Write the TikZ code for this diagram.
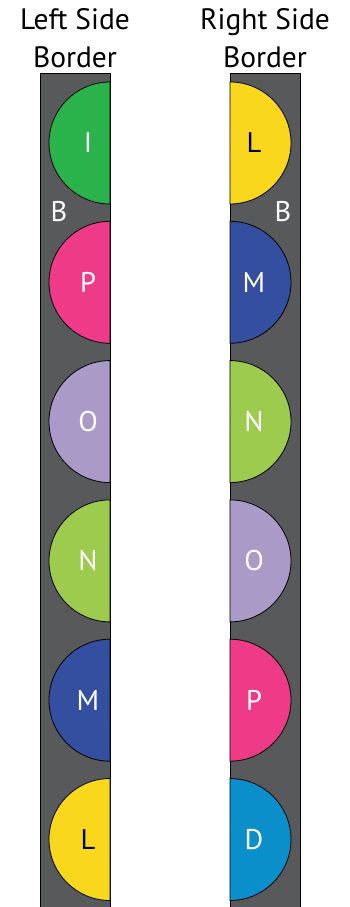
\documentclass[tikz,border=0pt]{standalone}
\usepackage{fontspec}
\setmainfont{PT Sans}
\definecolor{stripgray}{HTML}{58595B}
\definecolor{cgreen}{HTML}{2AB34B}
\definecolor{cyellow}{HTML}{F9D71C}
\definecolor{cpink}{HTML}{EE3A87}
\definecolor{cblue}{HTML}{344EA0}
\definecolor{clav}{HTML}{A99AC8}
\definecolor{clime}{HTML}{9DCB4E}
\definecolor{ccyan}{HTML}{0A8FCB}
\begin{document}
\begin{tikzpicture}[x=1pt,y=1pt,
  strip/.style={draw=black,line width=0.8pt,fill=stripgray},
  half/.style={draw=black,line width=0.8pt,fill=#1},
  title/.style={font=\fontsize{29.5}{32}\selectfont,anchor=base,inner sep=0pt},
  letter/.style={font=\fontsize{28.5}{32}\selectfont,anchor=base,inner sep=0pt,text=#1},
  letter/.default=white]
\useasboundingbox (0,0) rectangle (350,907);
% strips
\draw[strip] (40,-5) rectangle (110,834);
\draw[strip] (230,-5) rectangle (300,834);
% titles
\node[title] (lt1) at (75,877) {Left Side};
\node[title] (lt2) at (75,839) {Border};
\node[title] (rt1) at (265,877) {Right Side};
\node[title] (rt2) at (265,839) {Border};
% left half circles
\foreach \yc/\col/\txt/\tc [count=\i] in {764/cgreen/I/white,624.7/cpink/P/white,485.4/clav/O/white,346.1/clime/N/white,206.8/cblue/M/white,67.5/cyellow/L/black}{
  \draw[half=\col] (110,\yc+61) arc[start angle=90,end angle=270,radius=61] -- cycle;
  \node[letter=\tc] (l\i) at (88,\yc-10) {\txt};
}
% right half circles
\foreach \yc/\col/\txt/\tc [count=\i] in {764/cyellow/L/black,624.7/cblue/M/white,485.4/clime/N/white,346.1/clav/O/white,206.8/cpink/P/white,67.5/ccyan/D/white}{
  \draw[half=\col] (230,\yc+61) arc[start angle=90,end angle=-90,radius=61] -- cycle;
  \node[letter=\tc] (r\i) at (254,\yc-10) {\txt};
}
% B labels
\node[letter] (lb) at (59,685) {B};
\node[letter] (rb) at (283,685) {B};
\end{tikzpicture}
\end{document}
